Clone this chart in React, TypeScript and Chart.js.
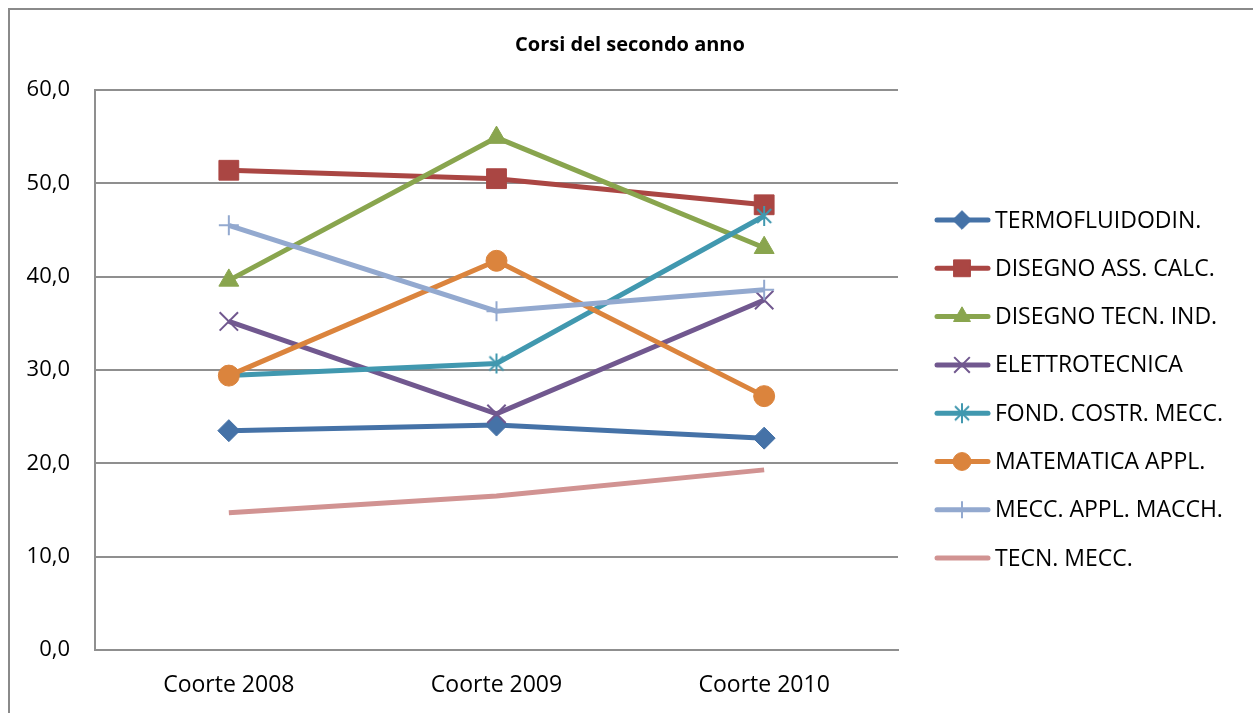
import React, { useEffect, useRef } from 'react';
import { Chart, registerables } from 'chart.js';
import { drawPoint } from 'chart.js/helpers';

Chart.register(...registerables);

const categories = ['Coorte 2008', 'Coorte 2009', 'Coorte 2010'];
const chartTitle = 'Corsi del secondo anno';

const seriesNames = [
  'TERMOFLUIDODIN.',
  'DISEGNO ASS. CALC.',
  'DISEGNO TECN. IND.',
  'ELETTROTECNICA',
  'FOND. COSTR. MECC.',
  'MATEMATICA APPL.',
  'MECC. APPL. MACCH.',
  'TECN. MECC.',
];

const termofluidodin = [23.5, 24.1, 22.7];
const disegnoAssCalc = [51.4, 50.5, 47.7];
const disegnoTecnInd = [39.6, 54.9, 43.1];
const elettrotecnica = [35.2, 25.3, 37.5];
const fondCostrMecc = [29.4, 30.7, 46.5];
const matematicaAppl = [29.4, 41.7, 27.2];
const meccApplMacch = [45.5, 36.3, 38.6];
const tecnMecc = [14.7, 16.5, 19.3];

const seriesValues = [
  termofluidodin,
  disegnoAssCalc,
  disegnoTecnInd,
  elettrotecnica,
  fondCostrMecc,
  matematicaAppl,
  meccApplMacch,
  tecnMecc,
];

const seriesColors = ['#4572A7', '#AA4643', '#89A54E', '#71588F', '#4198AF', '#DB843D', '#93A9CF', '#D19392'];

const yMin = 0;
const yMax = 60;
const yStep = 10;

const FONT = '"Open Sans", "Noto Sans", sans-serif';

function makeStarImage(color: string) {
  const c = document.createElement('canvas');
  c.width = 22;
  c.height = 22;
  const g = c.getContext('2d')!;
  g.strokeStyle = color;
  g.lineWidth = 2;
  g.lineCap = 'butt';
  g.beginPath();
  g.moveTo(4, 4);
  g.lineTo(18, 18);
  g.moveTo(18, 4);
  g.lineTo(4, 18);
  g.moveTo(11, 1);
  g.lineTo(11, 21);
  g.stroke();
  return c;
}

export default function App() {
  const canvasRef = useRef<HTMLCanvasElement | null>(null);

  useEffect(() => {
    const canvas = canvasRef.current;
    if (!canvas) return;

    const star = makeStarImage(seriesColors[4]);

    const markerStyles: any[] = ['rectRot', 'rect', 'triangle', 'crossRot', star, 'circle', 'cross', 'circle'];
    const markerRadius = [11, 14, 11.5, 13, 11, 10.5, 10, 0];
    const markerBorder = [1, 1, 1, 2, 2, 1, 2, 1];

    const datasets = seriesNames.map((name, i) => ({
      label: name,
      data: seriesValues[i],
      borderColor: seriesColors[i],
      backgroundColor: seriesColors[i],
      pointBackgroundColor: seriesColors[i],
      pointBorderColor: seriesColors[i],
      pointStyle: markerStyles[i],
      pointRadius: markerRadius[i],
      pointBorderWidth: markerBorder[i],
      borderWidth: 5,
      tension: 0,
      fill: false,
      order: seriesNames.length - i,
    }));

    const titleAndLegendPlugin = {
      id: 'titleAndLegend',
      afterDraw(chart: any) {
        const ctx = chart.ctx as CanvasRenderingContext2D;
        ctx.save();
        // title
        ctx.fillStyle = '#000000';
        ctx.font = `bold 20px ${FONT}`;
        ctx.textAlign = 'center';
        ctx.textBaseline = 'middle';
        ctx.fillText(chartTitle, 620, 35);
        // legend
        chart.data.datasets.forEach((ds: any, i: number) => {
          const y = 210 + i * 48.3;
          ctx.strokeStyle = ds.borderColor;
          ctx.lineWidth = 5;
          ctx.lineCap = 'round';
          ctx.beginPath();
          ctx.moveTo(927, y);
          ctx.lineTo(978, y);
          ctx.stroke();
          if (ds.pointRadius > 0) {
            ctx.fillStyle = ds.pointBackgroundColor;
            ctx.strokeStyle = ds.pointBorderColor;
            ctx.lineWidth = ds.pointBorderWidth;
            ctx.lineCap = 'butt';
            drawPoint(ctx, {
              pointStyle: ds.pointStyle,
              rotation: 0,
              radius: ds.pointRadius * 0.85,
              borderWidth: ds.pointBorderWidth,
            } as any, 952, y);
          }
          ctx.fillStyle = '#000000';
          ctx.font = `23px ${FONT}`;
          ctx.textBaseline = 'middle';
          ctx.textAlign = 'left';
          ctx.fillText(ds.label, 985, y + 1);
        });
        ctx.restore();
      },
    };

    const chart = new Chart(canvas, {
      type: 'line',
      data: { labels: categories, datasets },
      options: {
        animation: false,
        responsive: false,
        devicePixelRatio: 1,
        layout: { padding: { left: 0, right: 355, top: 80, bottom: 0 } },
        plugins: {
          legend: { display: false },
          tooltip: { enabled: false },
          title: { display: false },
        },
        scales: {
          x: {
            offset: true,
            grid: { display: false, drawTicks: false },
            border: { display: true, color: '#8f8f8f', width: 2 },
            ticks: {
              color: '#000000',
              font: { family: FONT, size: 23 },
              padding: 22,
              maxRotation: 0,
            },
            afterFit: (scale: any) => {
              scale.height = 63;
            },
          },
          y: {
            min: yMin,
            max: yMax,
            grid: { color: '#8f8f8f', lineWidth: 2, drawTicks: false },
            border: { display: true, color: '#8f8f8f', width: 2 },
            ticks: {
              stepSize: yStep,
              color: '#000000',
              font: { family: FONT, size: 22 },
              padding: 25,
              callback: (v: any) => Number(v).toFixed(1).replace('.', ','),
            },
            afterFit: (scale: any) => {
              scale.width = 85;
            },
          },
        },
      },
      plugins: [titleAndLegendPlugin],
    });

    return () => {
      chart.destroy();
    };
  }, []);

  return (
    <div
      style={{
        position: 'fixed',
        left: 8,
        top: 8,
        width: 1300,
        height: 760,
        borderLeft: '2px solid #8a8a8a',
        borderTop: '2px solid #8a8a8a',
        background: '#ffffff',
      }}
    >
      <canvas ref={canvasRef} width={1243} height={703} style={{ display: 'block', width: 1243, height: 703 }} />
    </div>
  );
}
